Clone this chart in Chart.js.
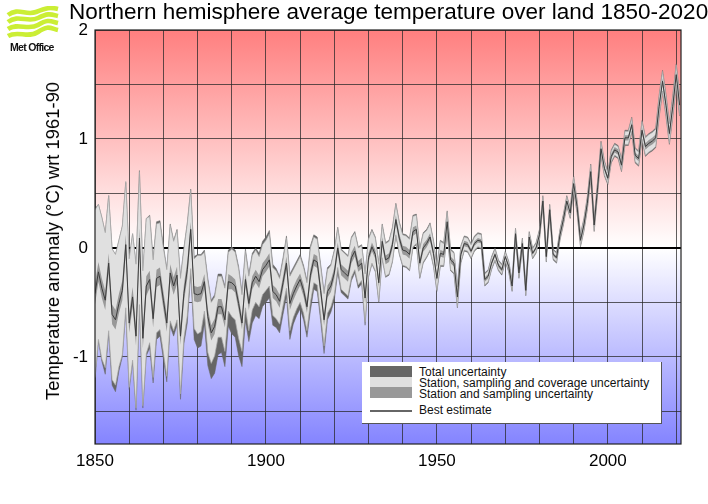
<!DOCTYPE html>
<html lang="en">
<head>
<meta charset="UTF-8">
<title>Northern hemisphere average temperature over land 1850-2020</title>
<script src="https://cdn.jsdelivr.net/npm/chart.js"></script>
<style>
    body { margin: 0; background: #fff; font-family: "Liberation Sans", Arial, sans-serif; }
    #wrap { position: relative; width: 708px; height: 504px; overflow: hidden; }
    #title { position: absolute; left: 69px; top: -2px; font-size: 22.5px; line-height: 28px; white-space: nowrap; color: #000; }
    #yTitle { position: absolute; left: 53px; top: 241px; font-size: 18.4px; line-height: 20px; white-space: nowrap; color: #000; transform: translate(-50%, -50%) rotate(-90deg); }
    #logo { position: absolute; left: 6px; top: 6px; }
    #logoText { position: absolute; left: 10px; top: 41px; font-size: 10.5px; line-height: 12px; font-weight: bold; letter-spacing: -0.7px; color: #111; }
    #legend { position: absolute; left: 362px; top: 362px; width: 299px; height: 61px; background: #fff; border-right: 1px solid #555; border-bottom: 1px solid #555; font-size: 12px; color: #111; }
    #legend .swatch { position: absolute; left: 8px; width: 42px; }
    #legend .label { position: absolute; left: 57px; line-height: 12px; white-space: nowrap; }
</style>
</head>
<body>
<div id="wrap">
    <canvas id="chart" width="708" height="504"></canvas>
    <div id="title">Northern hemisphere average temperature over land 1850-2020</div>
    <div id="yTitle"></div>
    <svg id="logo" width="54" height="36" viewBox="0 0 54 36">
        <g fill="none" stroke="#cbee35" stroke-width="4.6">
            <path d="M2 9 C12 1 20 10 30 6 S44 1 52 3"/>
            <path d="M2 16 C12 8 22 17 32 12 S44 8 52 10"/>
            <path d="M2 23 C12 16 22 25 32 19 S44 15 52 17"/>
            <path d="M2 30 C12 24 22 33 32 26 S44 22 52 24"/>
        </g>
    </svg>
    <div id="logoText">Met Office</div>
    <div id="legend"></div>
</div>
<script>
// values, one per year from 1850
const bestEstimate = [
    -.42,-.22,-.37,-.48,-.14,-.61,-.66,-.51,-.39,.03,
    -.69,-.45,-.81,.09,-.83,-.35,-.29,-.65,-.28,-.26,
    -.48,-.69,-.23,-.35,-.25,-.81,-.42,-.20,.17,-.42,
    -.43,-.42,-.31,-.63,-.78,-.72,-.54,-.54,-.66,-.31,
    -.32,-.35,-.51,-.69,-.29,-.51,-.32,-.26,-.31,-.20,
    -.16,-.11,-.40,-.43,-.49,-.32,-.14,-.51,-.42,-.35,
    -.29,-.39,-.54,-.25,-.11,-.13,-.39,-.66,-.40,-.35,
    -.23,.00,-.20,-.23,-.26,-.09,-.03,-.17,-.14,-.46,
    -.09,.01,-.06,-.32,.06,-.11,-.09,.03,.26,.09,
    -.02,-.03,-.06,.15,.17,-.14,.00,.04,.10,-.05,
    -.28,-.05,-.06,.24,-.11,-.14,-.45,-.06,.04,.03,
    -.03,.04,.07,.06,-.29,-.26,-.14,-.06,-.16,-.20,
    -.08,-.17,-.35,.13,-.23,.04,-.39,.10,-.05,.00,
    .12,.43,-.08,.35,-.06,-.09,.12,.26,.43,.32,
    .59,.38,.07,.21,.41,.70,.21,.55,.91,.73,
    .64,.84,.90,.88,.76,1.01,1.01,1.13,.85,.82,
    1.08,.93,.96,.98,1.01,1.30,1.53,1.31,1.05,1.30,
    1.59,1.31
];
// distance of the band edges from the best estimate
const totalAbove = [
    .78,.62,.65,.62,.62,.60,.60,.58,.59,.57,
    .59,.58,.66,.62,.62,.62,.59,.55,.52,.51,
    .50,.50,.45,.42,.42,.54,.42,.43,.37,.34,
    .37,.36,.29,.35,.30,.29,.30,.30,.31,.29,
    .33,.33,.34,.28,.28,.27,.27,.26,.26,.26,
    .26,.27,.25,.24,.23,.23,.25,.27,.24,.23,
    .23,.23,.24,.27,.23,.23,.24,.25,.22,.20,
    .21,.19,.19,.19,.19,.19,.18,.18,.17,.23,
    .18,.16,.16,.18,.16,.16,.16,.16,.15,.15,
    .15,.15,.15,.15,.14,.14,.14,.13,.13,.12,
    .12,.12,.11,.10,.10,.10,.10,.08,.07,.07,
    .07,.07,.07,.07,.06,.06,.06,.06,.05,.05,
    .05,.05,.05,.05,.05,.05,.05,.05,.05,.05,
    .05,.05,.05,.05,.05,.05,.05,.05,.05,.05,
    .07,.06,.06,.06,.06,.07,.06,.06,.07,.07,
    .06,.06,.06,.06,.06,.07,.07,.07,.07,.07,
    .09,.09,.09,.09,.09,.10,.10,.10,.10,.10,
    .10,.10
];
const totalBelow = [
    .78,.64,.67,.68,.65,.65,.66,.62,.61,.62,
    .61,.60,.68,.66,.64,.64,.63,.59,.56,.55,
    .54,.54,.49,.46,.46,.58,.46,.49,.41,.42,
    .49,.48,.39,.45,.42,.43,.44,.42,.43,.41,
    .47,.47,.48,.40,.38,.35,.37,.36,.34,.34,
    .34,.35,.31,.30,.29,.29,.31,.33,.28,.27,
    .27,.27,.28,.33,.27,.27,.28,.31,.26,.24,
    .25,.23,.21,.21,.21,.21,.20,.20,.19,.25,
    .18,.16,.16,.18,.16,.16,.16,.16,.15,.15,
    .15,.15,.15,.15,.14,.14,.14,.13,.13,.12,
    .12,.12,.11,.10,.10,.10,.10,.08,.07,.07,
    .07,.07,.07,.07,.06,.06,.06,.06,.05,.05,
    .05,.05,.05,.05,.05,.05,.05,.05,.05,.05,
    .05,.05,.05,.05,.05,.05,.05,.05,.05,.05,
    .07,.06,.06,.06,.06,.07,.06,.06,.07,.07,
    .06,.06,.06,.06,.06,.07,.07,.07,.07,.07,
    .09,.09,.09,.09,.09,.10,.10,.10,.10,.10,
    .10,.10
];
const coverageWidth = [
    .77,.62,.65,.62,.62,.60,.60,.58,.59,.58,
    .59,.58,.66,.61,.62,.62,.58,.54,.50,.49,
    .48,.49,.44,.41,.41,.53,.41,.42,.36,.32,
    .36,.35,.27,.33,.28,.27,.28,.28,.29,.27,
    .31,.31,.32,.26,.26,.25,.25,.24,.23,.23,
    .23,.24,.22,.22,.21,.21,.23,.25,.22,.21,
    .21,.21,.22,.25,.21,.21,.22,.24,.20,.19,
    .20,.18,.18,.18,.18,.18,.17,.17,.16,.22,
    .17,.15,.15,.17,.15,.15,.15,.15,.14,.14,
    .14,.14,.14,.14,.13,.13,.13,.12,.12,.11,
    .11,.11,.10,.09,.09,.09,.09,.07,.06,.06,
    .06,.06,.06,.06,.05,.05,.05,.05,.04,.04,
    .04,.04,.04,.04,.04,.04,.04,.04,.04,.04,
    .04,.04,.04,.04,.04,.04,.04,.04,.04,.04,
    .06,.05,.05,.05,.05,.06,.05,.05,.06,.06,
    .05,.05,.05,.05,.05,.06,.06,.06,.06,.06,
    .08,.08,.08,.08,.08,.09,.09,.09,.09,.09,
    .09,.09
];
const stationWidth = [
    .10,.09,.09,.09,.09,.09,.09,.09,.09,.09,
    .09,.09,.09,.09,.09,.09,.08,.08,.08,.08,
    .08,.08,.08,.08,.08,.08,.08,.08,.07,.07,
    .07,.07,.07,.07,.07,.07,.07,.07,.07,.07,
    .06,.06,.06,.06,.06,.06,.06,.06,.06,.06,
    .06,.06,.06,.06,.06,.06,.06,.06,.06,.06,
    .055,.055,.055,.055,.055,.055,.055,.055,.055,.055,
    .05,.05,.05,.05,.05,.05,.05,.05,.05,.05,
    .04,.04,.04,.04,.04,.04,.04,.04,.04,.04,
    .04,.04,.04,.04,.035,.035,.035,.035,.035,.035,
    .03,.03,.03,.03,.03,.03,.03,.025,.025,.025,
    .02,.02,.02,.02,.02,.02,.02,.02,.02,.02,
    .015,.015,.015,.015,.015,.015,.015,.015,.015,.015,
    .015,.015,.015,.015,.015,.015,.015,.015,.015,.015,
    .02,.02,.02,.02,.02,.02,.02,.02,.02,.02,
    .025,.025,.025,.025,.025,.025,.025,.025,.025,.025,
    .03,.03,.03,.03,.03,.03,.03,.03,.03,.03,
    .03,.03
];
const firstYear = 1850;
const legendLabels = ['Total uncertainty', 'Station, sampling and coverage uncertainty', 'Station and sampling uncertainty', 'Best estimate'];
const yAxisTitle = 'Temperature anomaly (\u00b0C) wrt 1961-90';

const points = offset => bestEstimate.map((v, i) => ({ x: firstYear + i, y: v + offset(i) }));

function band(label, above, below, fillColor, edgeColor, edgeWidth, order) {
    return [
        { label: label, data: points(i => above[i]), fill: '+1', backgroundColor: fillColor, borderColor: edgeColor, borderWidth: edgeWidth, pointRadius: 0, tension: 0, order: order + 0.5 },
        { label: label + ' lower', data: points(i => -below[i]), fill: false, borderColor: edgeColor, borderWidth: edgeWidth, pointRadius: 0, tension: 0, order: order }
    ];
}

// red to white to blue backdrop, plus the frame round the plot
const backdrop = {
    id: 'backdrop',
    beforeDraw(chart) {
        const { ctx, chartArea: a, scales } = chart;
        const zero = (scales.y.getPixelForValue(0) - a.top) / (a.bottom - a.top);
        const g = ctx.createLinearGradient(0, a.top, 0, a.bottom);
        g.addColorStop(0, '#ff7f7f');
        g.addColorStop(zero, '#ffffff');
        g.addColorStop(1, '#8484ff');
        ctx.fillStyle = g;
        ctx.fillRect(a.left, a.top, a.right - a.left, a.bottom - a.top);
    },
    afterDraw(chart) {
        const { ctx, chartArea: a } = chart;
        ctx.strokeStyle = '#222';
        ctx.lineWidth = 1.2;
        ctx.strokeRect(a.left, a.top, a.right - a.left, a.bottom - a.top);
    }
};

new Chart(document.getElementById('chart'), {
    type: 'line',
    data: {
        datasets: [
            ...band(legendLabels[0], totalAbove, totalBelow, '#666666', '#666666', 0.5, 6),
            ...band(legendLabels[1], coverageWidth, coverageWidth, '#e0e0e0', '#a8a8a8', 0.7, 4),
            ...band(legendLabels[2], stationWidth, stationWidth, '#999999', '#999999', 0, 2),
            { label: legendLabels[3], data: points(() => 0), fill: false, borderColor: '#3c3c3c', borderWidth: 1, pointRadius: 0, tension: 0, order: 1 }
        ]
    },
    options: {
        responsive: false,
        animation: false,
        layout: { padding: { top: 30, right: 27, bottom: 0, left: 0 } },
        plugins: { legend: { display: false }, tooltip: { enabled: false }, title: { display: false } },
        scales: {
            x: {
                type: 'linear',
                min: 1850,
                max: 2021.4,
                afterFit: s => { s.height = 60; },
                border: { display: false },
                grid: { color: 'rgba(40,40,40,0.75)', lineWidth: 1, drawTicks: false },
                ticks: {
                    stepSize: 10,
                    includeBounds: false,
                    autoSkip: false,
                    maxRotation: 0,
                    padding: 7,
                    color: '#000',
                    font: { family: 'Liberation Sans', size: 17 },
                    callback: v => (v % 50 === 0 ? String(v) : '')
                }
            },
            y: {
                min: -1.8,
                max: 2,
                afterFit: s => { s.width = 95; },
                border: { display: false },
                grid: {
                    color: c => (c.tick.value === 0 ? '#000' : 'rgba(40,40,40,0.75)'),
                    lineWidth: c => (c.tick.value === 0 ? 2 : 1),
                    drawTicks: false
                },
                ticks: {
                    stepSize: 0.5,
                    includeBounds: false,
                    autoSkip: false,
                    padding: 7,
                    color: '#000',
                    font: { family: 'Liberation Sans', size: 17 },
                    callback: v => (Number.isInteger(v) ? String(v) : '')
                }
            }
        }
    },
    plugins: [backdrop]
});

document.getElementById('yTitle').textContent = yAxisTitle;

// legend box, the library's own legend cannot sit inside the plot like this
const legendBox = document.getElementById('legend');
const swatchColors = ['#666666', '#e0e0e0', '#999999'];
const swatchTops = [4, 15, 25];
const labelTops = [4, 15, 26, 42];
swatchColors.forEach((color, i) => {
    const s = document.createElement('div');
    s.className = 'swatch';
    s.style.cssText = 'top:' + swatchTops[i] + 'px;height:' + (i === 2 ? 11 : swatchTops[i + 1] - swatchTops[i]) + 'px;background:' + color;
    legendBox.appendChild(s);
});
const bestLine = document.createElement('div');
bestLine.className = 'swatch';
bestLine.style.cssText = 'top:48px;height:1.5px;background:#666';
legendBox.appendChild(bestLine);
legendLabels.forEach((text, i) => {
    const l = document.createElement('div');
    l.className = 'label';
    l.style.top = labelTops[i] + 'px';
    l.textContent = text;
    legendBox.appendChild(l);
});
</script>
</body>
</html>
